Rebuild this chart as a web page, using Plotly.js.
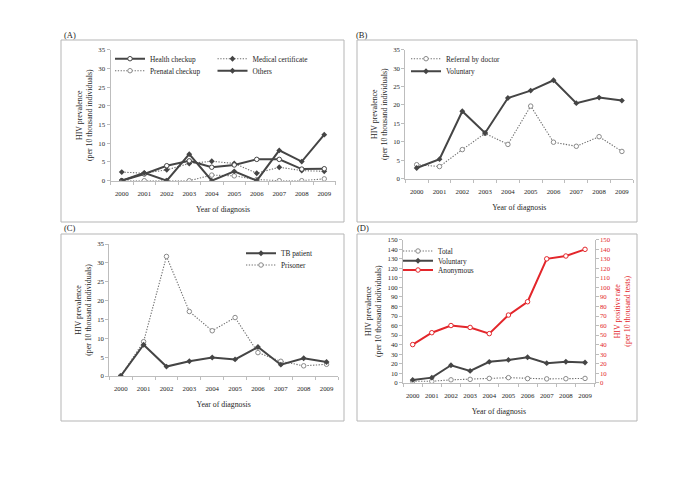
<!DOCTYPE html>
<html>
<head>
<meta charset="utf-8">
<script src="https://cdn.plot.ly/plotly-3.0.1.min.js"></script>
<style>html,body{margin:0;padding:0;background:#fff;}#chart{width:685px;height:484px;}</style>
</head>
<body>
<div id="chart"></div>
<script>
// ---- data ----
const years = [2000, 2001, 2002, 2003, 2004, 2005, 2006, 2007, 2008, 2009];
// Panel A
const healthCheckup      = [0, 1.8, 4.0, 5.3, 3.6, 4.2, 5.7, 5.7, 3.1, 3.2];
const medicalCertificate = [2.3, 2.0, 2.9, 4.6, 5.2, 4.6, 2.0, 3.6, 2.7, 2.5];
const prenatalCheckup    = [0, 0, 0, 0, 1.5, 1.3, 0.3, 0, 0, 0.5];
const others             = [0, 2.1, 0, 7.1, 0, 2.5, 0, 8.1, 5.1, 12.3];
// Panel B
const referralByDoctor   = [3.8, 3.3, 7.9, 12.3, 9.3, 19.7, 9.9, 8.8, 11.4, 7.4];
const voluntary          = [2.9, 5.3, 18.3, 12.4, 21.9, 23.9, 26.7, 20.5, 22.0, 21.2];
// Panel C
const tbPatient          = [0, 8.3, 2.5, 3.9, 4.9, 4.4, 7.7, 3.0, 4.7, 3.7];
const prisoner           = [0, 9.1, 31.7, 17.1, 12.0, 15.5, 6.2, 3.9, 2.7, 3.1];
// Panel D
const total              = [1.5, 1.5, 3.0, 3.5, 4.5, 5.3, 4.3, 4.0, 4.2, 4.5];
const anonymous          = [40, 52.5, 60, 58, 51.5, 71, 85, 130, 133, 140];
// labels
const panelLabels = ['(A)', '(B)', '(C)', '(D)'];
const xTitle = 'Year of diagnosis';
const yTitle = 'HIV prevalence<br>(per 10 thousand individuals)';
const y2Title = 'HIV positive rate<br>(per 10 thousand tests)';

// ---- styling ----
const W = 685, H = 484;
const fx = v => v / W;
const fy = v => 1 - v / H;
const FONT = 'Liberation Serif, Times New Roman, serif';
const DARK = '#454545';
const GREY = '#6e6e6e';
const RED = '#e3262b';
const AXC = '#bdbdbd';
const TXT = '#1e1e1e';

function solid(name, y, xa, ya, leg, filled, color) {
  color = color || DARK;
  return {
    x: years, y: y, name: name, xaxis: xa, yaxis: ya, legend: leg,
    mode: 'lines+markers', type: 'scatter',
    line: {color: color, width: 2},
    marker: filled ? {symbol: 'diamond', size: 4.5, color: color}
                   : {symbol: 'circle', size: 4.5, color: 'white', line: {color: color, width: 1}}
  };
}
function dotted(name, y, xa, ya, leg, filled) {
  return {
    x: years, y: y, name: name, xaxis: xa, yaxis: ya, legend: leg,
    mode: 'lines+markers', type: 'scatter',
    line: {color: GREY, width: 1.1, dash: '1.3px,1.5px'},
    marker: filled ? {symbol: 'diamond', size: 4.5, color: DARK}
                   : {symbol: 'circle', size: 4.5, color: 'white', line: {color: '#8a8a8a', width: 1}}
  };
}

const traces = [
  dotted('Prenatal checkup', prenatalCheckup, 'x', 'y', 'legend3', false),
  dotted('Medical certificate', medicalCertificate, 'x', 'y', 'legend2', true),
  solid('Health checkup', healthCheckup, 'x', 'y', 'legend', false),
  solid('Others', others, 'x', 'y', 'legend4', true),
  dotted('Referral by doctor', referralByDoctor, 'x2', 'y2', 'legend5', false),
  solid('Voluntary', voluntary, 'x2', 'y2', 'legend6', true),
  dotted('Prisoner', prisoner, 'x3', 'y3', 'legend8', false),
  solid('TB patient', tbPatient, 'x3', 'y3', 'legend7', true),
  dotted('Total', total, 'x4', 'y4', 'legend9', false),
  solid('Voluntary', voluntary, 'x4', 'y4', 'legend10', true),
  solid('Anonymous', anonymous, 'x4', 'y5', 'legend11', false, RED)
];

function xaxis(dom, anchor) {
  return {
    domain: dom, anchor: anchor, range: [1999.5, 2009.5], fixedrange: true,
    tickmode: 'array', tickvals: years, ticktext: years.map(String),
    ticks: '', ticklabelstandoff: 6,
    minor: {tick0: 1999.5, dtick: 1, ticks: 'outside', ticklen: 3, tickcolor: AXC},
    showline: true, linecolor: AXC, linewidth: 1, showgrid: false, zeroline: false,
    tickfont: {family: FONT, size: 6.8, color: TXT},
    title: {text: xTitle, standoff: 10, font: {family: FONT, size: 7.8, color: TXT}}
  };
}
function yaxis(dom, anchor, maxv, dt, color, side, overlay, title) {
  const a = {
    domain: dom, anchor: anchor, range: [0, maxv], fixedrange: true,
    dtick: dt, tick0: 0, ticks: 'outside', ticklen: 3, tickcolor: AXC,
    showline: true, linecolor: AXC, linewidth: 1, showgrid: false, zeroline: false,
    tickfont: {family: FONT, size: 6.8, color: color},
    title: {text: title, standoff: 4, font: {family: FONT, size: 7.8, color: color}}
  };
  if (side) a.side = side;
  if (overlay) a.overlaying = overlay;
  return a;
}

function legend(xText, yRow) {
  return {
    x: fx(xText - 40), y: fy(yRow - 14.5), xanchor: 'left', yanchor: 'top',
    bgcolor: 'rgba(0,0,0,0)', borderwidth: 0, itemwidth: 30,
    font: {family: FONT, size: 7.3, color: TXT}, itemclick: false, itemdoubleclick: false
  };
}

const boxes = [[61, 40, 344, 222], [357, 40, 637, 222], [61, 234, 344, 421], [357, 234, 637, 421]];
const shapes = boxes.map(b => ({
  type: 'rect', xref: 'paper', yref: 'paper',
  x0: fx(b[0]), x1: fx(b[2]), y0: fy(b[3]), y1: fy(b[1]),
  line: {color: '#b5b5b5', width: 1}, fillcolor: 'rgba(0,0,0,0)', layer: 'below'
}));
const labelPos = [[70, 35], [362, 35], [70, 228], [363, 228]];
const annotations = panelLabels.map((t, i) => ({
  text: t, xref: 'paper', yref: 'paper', x: fx(labelPos[i][0]), y: fy(labelPos[i][1]),
  xanchor: 'center', yanchor: 'middle', showarrow: false,
  font: {family: FONT, size: 8.5, color: TXT}
}));

const layout = {
  width: W, height: H, margin: {l: 0, r: 0, t: 0, b: 0},
  paper_bgcolor: '#fff', plot_bgcolor: 'rgba(0,0,0,0)',
  font: {family: FONT, color: TXT},
  xaxis:  xaxis([fx(110.5), fx(335.5)], 'y'),
  yaxis:  yaxis([fy(180.7), fy(49.7)], 'x', 35, 5, TXT, null, null, yTitle),
  xaxis2: xaxis([fx(405.3), fx(633.3)], 'y2'),
  yaxis2: yaxis([fy(178.7), fy(49.7)], 'x2', 35, 5, TXT, null, null, yTitle),
  xaxis3: xaxis([fx(109.3), fx(338)], 'y3'),
  yaxis3: yaxis([fy(376), fy(244)], 'x3', 35, 5, TXT, null, null, yTitle),
  xaxis4: xaxis([fx(403.1), fx(594.6)], 'y4'),
  yaxis4: yaxis([fy(382.7), fy(239.8)], 'x4', 150, 10, TXT, null, null, yTitle),
  yaxis5: yaxis([fy(382.7), fy(239.8)], 'x4', 150, 10, RED, 'right', 'y4', y2Title),
  legend:   legend(150, 58.7),
  legend2:  legend(252.5, 58.7),
  legend3:  legend(150, 70.7),
  legend4:  legend(252.5, 70.7),
  legend5:  legend(446, 58.7),
  legend6:  legend(446, 71.3),
  legend7:  legend(281, 253.3),
  legend8:  legend(281, 265),
  legend9:  legend(438, 251),
  legend10: legend(438, 260.7),
  legend11: legend(438, 270),
  shapes: shapes,
  annotations: annotations,
  showlegend: true
};
traces.forEach(t => t.showlegend = true);

Plotly.newPlot('chart', traces, layout, {staticPlot: true, displayModeBar: false});
</script>
</body>
</html>
